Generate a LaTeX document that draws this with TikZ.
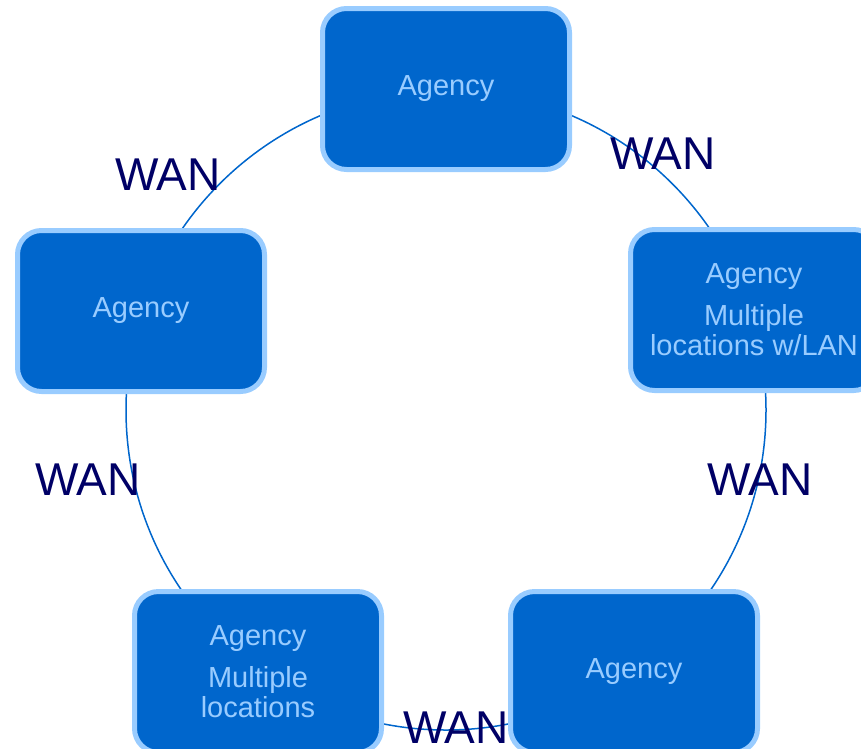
\documentclass[tikz,border=0pt]{standalone}
\usepackage{fontspec}
\setmainfont{Liberation Sans}

\definecolor{agencyfill}{HTML}{0066CC}
\definecolor{agencyrim}{HTML}{99CCFF}
\definecolor{wannavy}{HTML}{000066}

\begin{document}
\begin{tikzpicture}[
    x = 1pt,
    y = -1pt,
    agency/.style = {draw = agencyrim,
      fill = agencyfill,
      line width = 5pt,
      rounded corners = 24pt,
      minimum width = 247pt,
      minimum height = 161pt,
      align = center,
      text = agencyrim,
      font = \fontsize{29}{30}\selectfont},
    wan/.style = {text = wannavy,
      font = \fontsize{46}{50}\selectfont},
    ring/.style = {draw = agencyfill,
      line width = 1.5pt},
    ]

    \useasboundingbox (0, 0) rectangle (861, 748);
    \clip (0, 0) rectangle (861, 748);

    \coordinate (hub) at (446, 410);
    \draw [ring] (hub) circle [radius = 320];

    \node at (446, 89)
    [agency, name = A_top] {Agency};
    \node at (754, 310)
    [agency, name = A_right] {Agency\\[12pt]Multiple\\locations w/LAN};
    \node at (141, 311)
    [agency, name = A_left] {Agency};

    \node at (258, 672)
    [agency, name = A_botleft] {Agency\\[12pt]Multiple\\locations};
    \node at (634, 672)
    [agency, name = A_botright] {Agency};

    \node at (168, 175) [wan, name = W_topleft] {WAN};
    \node at (663, 154) [wan, name = W_topright] {WAN};
    \node at (88, 480) [wan, name = W_left] {WAN};
    \node at (760, 480) [wan, name = W_right] {WAN};
    \node at (456, 728) [wan, name = W_bottom] {WAN};

  \end{tikzpicture}
\end{document}
